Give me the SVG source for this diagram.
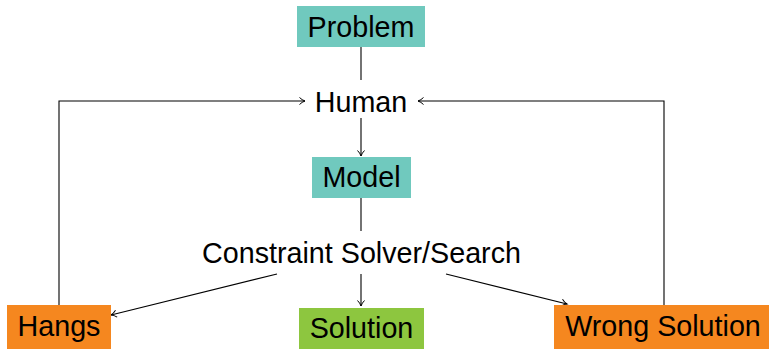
<svg xmlns="http://www.w3.org/2000/svg" width="769" height="349" viewBox="0 0 769 349">
<defs>
<style>
text{font-family:"Liberation Sans",Arial,sans-serif;font-size:28.7px;fill:#000;text-anchor:middle}
.teal{fill:#70c9be}
.green{fill:#8dc63f}
.orange{fill:#f5871f}
.c{fill:none;stroke:#000;stroke-width:1.1}
</style>
<marker id="ah" markerWidth="10" markerHeight="10" refX="7" refY="5" orient="auto" markerUnits="userSpaceOnUse">
<path d="M1.5,1.5 Q4,4 7,5 Q4,6 1.5,8.5" fill="none" stroke="#000" stroke-width="1"/>
</marker>
</defs>
<g id="connectors">
<path class="c" d="M361,47 V80"/>
<path class="c" d="M361,118 V156" marker-end="url(#ah)"/>
<path class="c" d="M361,198 V231"/>
<path class="c" d="M361,274 V306" marker-end="url(#ah)"/>
<path class="c" d="M277,274 L111,315" marker-end="url(#ah)"/>
<path class="c" d="M446,274 L567,304" marker-end="url(#ah)"/>
<path class="c" d="M59,305 V101 H305" marker-end="url(#ah)"/>
<path class="c" d="M664,305 V101 H418" marker-end="url(#ah)"/>
</g>
<g id="problem"><rect class="teal" x="297" y="6" width="128" height="41"/><text x="361" y="37">Problem</text></g>
<g id="human"><text x="361" y="112">Human</text></g>
<g id="model"><rect class="teal" x="312" y="157" width="99" height="41"/><text x="361.5" y="187">Model</text></g>
<g id="solver"><text x="361.5" y="263">Constraint Solver/Search</text></g>
<g id="hangs"><rect class="orange" x="7" y="305" width="104" height="44"/><text x="59" y="336">Hangs</text></g>
<g id="solution"><rect class="green" x="299" y="308" width="125" height="41"/><text x="361.5" y="338">Solution</text></g>
<g id="wrong"><rect class="orange" x="554" y="305" width="215" height="44"/><text x="663" y="336">Wrong Solution</text></g>
</svg>
